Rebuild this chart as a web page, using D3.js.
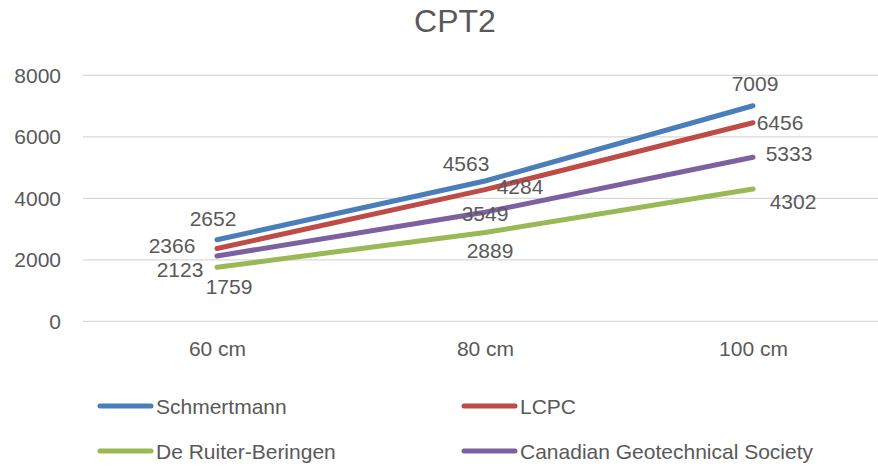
<!DOCTYPE html>
<html>
<head>
<meta charset="utf-8">
<script src="https://cdn.jsdelivr.net/npm/d3@7"></script>
<style>
  html, body { margin: 0; padding: 0; background: #fff; }
  svg { display: block; }
  text { font-family: "Liberation Sans", Arial, sans-serif; fill: #595959; }
</style>
</head>
<body>
<svg id="chart" width="878" height="468"></svg>
<script>
const title = "CPT2";
const categories = ["60 cm", "80 cm", "100 cm"];
const yTicks = [0, 2000, 4000, 6000, 8000];
const seriesNames = ["Schmertmann", "LCPC", "De Ruiter-Beringen", "Canadian Geotechnical Society"];
const schmertmann = [2652, 4563, 7009];
const lcpc = [2366, 4284, 6456];
const deRuiter = [1759, 2889, 4302];
const canadian = [2123, 3549, 5333];
const colors = ["#4A7EBB", "#BE4B48", "#98B954", "#7D60A0"];
// draw order (back to front) and label offsets relative to points (layout only)
const drawOrder = [2, 3, 1, 0];
const labelOffsets = [
  [[-4, -21], [-19, -17], [2, -22]],
  [[-45, -3], [35, -3], [27, 0]],
  [[12, 19], [5, 18], [40, 12]],
  [[-37, 13], [0, 1], [36, -4]]
];

const seriesValues = [schmertmann, lcpc, deRuiter, canadian];
const svg = d3.select("#chart");

const x = d3.scalePoint().domain(categories).range([83, 887]).padding(0.5);
const y = d3.scaleLinear().domain([0, 8000]).range([321.3, 75.3]);

// title
svg.append("text").attr("x", 455).attr("y", 21).attr("text-anchor", "middle")
  .attr("dominant-baseline", "central").style("font-size", "32px").text(title);

// gridlines
svg.append("g").selectAll("line").data(yTicks).join("line")
  .attr("x1", 83).attr("x2", 887)
  .attr("y1", d => y(d)).attr("y2", d => y(d))
  .attr("stroke", "#D9D9D9").attr("stroke-width", 1.3);

// y axis labels
const yAxis = d3.axisLeft(y).tickValues(yTicks).tickSize(0).tickPadding(0).tickFormat(d3.format("d"));
const ga = svg.append("g").attr("transform", "translate(61,0)").call(yAxis);
ga.select(".domain").remove();
ga.selectAll("text").style("font-size", "21px").attr("fill", "#595959").style("font-family", "'Liberation Sans', Arial, sans-serif");

// x axis labels
const xAxis = d3.axisBottom(x).tickSize(0).tickPadding(0);
const gx = svg.append("g").attr("transform", "translate(0,341)").call(xAxis);
gx.select(".domain").remove();
gx.selectAll("text").style("font-size", "21px").attr("fill", "#595959").style("font-family", "'Liberation Sans', Arial, sans-serif");

// lines
const line = d3.line().x((d, i) => x(categories[i])).y(d => y(d));
drawOrder.forEach(si => {
  svg.append("path").datum(seriesValues[si])
    .attr("d", line).attr("fill", "none")
    .attr("stroke", colors[si]).attr("stroke-width", 5)
    .attr("stroke-linecap", "round").attr("stroke-linejoin", "round");
});

// data labels
seriesValues.forEach((vals, si) => {
  svg.append("g").selectAll("text").data(vals).join("text")
    .attr("x", (d, i) => x(categories[i]) + labelOffsets[si][i][0])
    .attr("y", (d, i) => y(d) + labelOffsets[si][i][1])
    .attr("text-anchor", "middle").attr("dominant-baseline", "central")
    .style("font-size", "21px").text(d => d);
});

// legend
const legendPos = [[98, 406], [462, 406], [98, 451], [462, 451]];
seriesNames.forEach((name, si) => {
  const [lx, ly] = legendPos[si];
  const g = svg.append("g").attr("transform", `translate(${lx},${ly})`);
  g.append("line").attr("x1", 2).attr("x2", 53).attr("y1", 0).attr("y2", 0)
    .attr("stroke", colors[si]).attr("stroke-width", 5).attr("stroke-linecap", "round");
  g.append("text").attr("x", 58).attr("y", 0).attr("dominant-baseline", "central")
    .style("font-size", "21px").text(name);
});
</script>
</body>
</html>
